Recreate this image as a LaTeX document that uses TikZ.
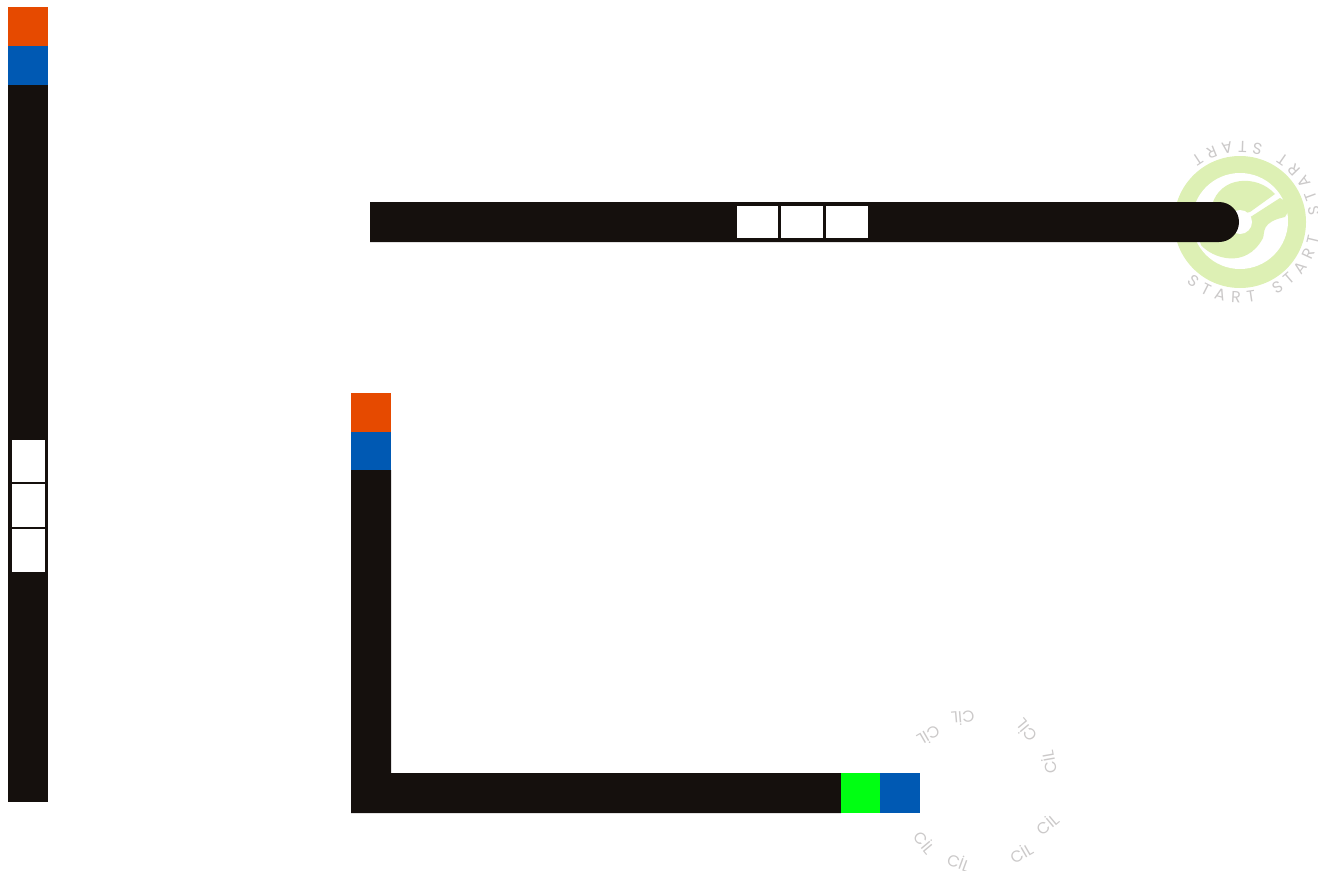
\documentclass[tikz,border=0pt]{standalone}
\usepackage{fontspec}
\setmainfont{Poppins}
\usepackage{tikz}
\usetikzlibrary{decorations.text}
\definecolor{barblack}{HTML}{15100D}
\definecolor{capred}{HTML}{E64A00}
\definecolor{capblue}{HTML}{0059B3}
\definecolor{capgreen}{HTML}{00FF12}
\definecolor{logogreen}{HTML}{DDF0B4}
\definecolor{labelgray}{HTML}{CBC9C9}
\tikzset{
  bar/.style={fill=barblack},
  slot/.style={fill=white},
  cil/.style={text=labelgray, font=\fontsize{12}{12}\selectfont},
  arclabel/.style={postaction={decorate, decoration={text along path, text align={fit to path},
    text={|\fontsize{12}{12}\selectfont\color{labelgray}|#1}}}}
}
\begin{document}
\begin{tikzpicture}[x=0.75pt, y=-0.75pt]
  \useasboundingbox (0,0) rectangle (1318,871);
  % left strip
  \fill[capred] (8,7) rectangle (48,46);
  \fill[capblue] (8,46) rectangle (48,85);
  \fill[bar] (8,85) rectangle (48,802);
  \foreach \ya/\yb in {440/482, 484/527, 529/572}
    \fill[slot] (12,\ya) rectangle (45,\yb);
  % logo
  \fill[logogreen] (1240,222) circle (66);
  \fill[white] (1240,221) circle (48);
  \fill[logogreen] (1212,205) .. controls (1220,176) and (1257,174) .. (1275,194)
    -- (1250,212) -- (1225,218) -- cycle;
  \fill[logogreen] (1198,236) -- (1201,245) .. controls (1212,258) and (1246,270) .. (1263,238)
    .. controls (1265,232) and (1261,222) .. (1285,217)
    -- (1292,205) -- (1280,198) -- (1252,216) -- (1240,222) -- cycle;
  \fill[white] (1240,222) circle (12);
  % top bar
  \fill[bar] (370,202) -- (1219,202) arc (-90:90:20) -- (370,242) -- cycle;
  \foreach \xa/\xb in {737/778, 781/823, 826/868}
    \fill[slot] (\xa,206) rectangle (\xb,238);
  % L bar
  \fill[capred] (351,393) rectangle (391,432);
  \fill[capblue] (351,432) rectangle (391,470);
  \fill[bar] (351,470) -- (391,470) -- (391,773) -- (841,773) -- (841,813) -- (351,813) -- cycle;
  \fill[capgreen] (841,773) rectangle (880,813);
  \fill[capblue] (880,773) rectangle (920,813);
  % START labels
  \foreach \ang in {105,37,-32,-100}
    \path[arclabel={START}] ({1240+81*cos(\ang+26.5)},{222+81*sin(\ang+26.5)}) arc ({\ang+26.5}:{\ang-26.5}:81);
  % CIL labels
  \node[cil, rotate=-150] (cilA) at (929,736) {CİL};
  \node[cil, rotate=-175] (cilB) at (963,718) {CİL};
  \node[cil, rotate=130] (cilC) at (1026,731) {CİL};
  \node[cil, rotate=100] (cilD) at (1049,762) {CİL};
  \node[cil, rotate=40] (cilE) at (1047,824) {CİL};
  \node[cil, rotate=30] (cilF) at (1021,853) {CİL};
  \node[cil, rotate=-20] (cilG) at (959,862) {CİL};
  \node[cil, rotate=-50] (cilH) at (925,842) {CİL};
\end{tikzpicture}
\end{document}
